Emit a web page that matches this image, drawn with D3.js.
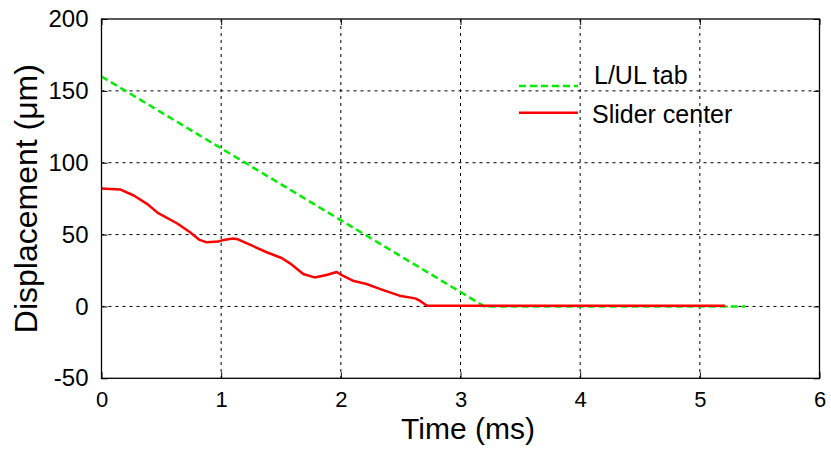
<!DOCTYPE html>
<html>
<head>
<meta charset="utf-8">
<script src="https://cdn.jsdelivr.net/npm/d3@7"></script>
<style>
  html, body { margin: 0; padding: 0; background: #fff; }
  svg { display: block; font-family: "Liberation Sans", Arial, sans-serif; }
</style>
</head>
<body>
<svg id="chart" width="831" height="454"></svg>
<script>
// Tab (L/UL) displacement vs time
const tabTime = [0, 3.2, 5.38];
const tabDisp = [160, 0, 0];

// Slider centre displacement vs time
const sliderTime = [0, 0.155, 0.27, 0.38, 0.47, 0.63, 0.74, 0.82, 0.88, 0.976, 1.02, 1.10, 1.14,
  1.24, 1.38, 1.505, 1.575, 1.686, 1.78, 1.88, 1.965, 2.02, 2.10, 2.215, 2.33, 2.49, 2.62, 2.66, 2.72, 5.21];
const sliderDisp = [82, 81.4, 77.2, 71.4, 65.1, 57.9, 51.6, 46.3, 44.6, 45.1, 46.3, 47.2, 46.7,
  43, 37.7, 33.7, 30, 22.6, 20.2, 21.9, 24, 21.2, 17.9, 15.6, 12.1, 7.5, 5.6, 4, 0.5, 0.5];

const xTicks = [0, 1, 2, 3, 4, 5, 6];
const yTicks = [-50, 0, 50, 100, 150, 200];
const legendLabels = ["L/UL tab", "Slider center"];

const svg = d3.select("#chart");
const plotL = 101.5, plotR = 819.5, plotT = 19, plotB = 378.3;

const x = d3.scaleLinear().domain([0, 6]).range([plotL, plotR]);
const y = d3.scaleLinear().domain([-50, 200]).range([plotB, plotT]);

// dotted grid
const grid = svg.append("g")
  .attr("stroke", "#000").attr("stroke-width", 1).attr("stroke-dasharray", "3,4");
grid.selectAll("line.gx").data(xTicks.slice(1, -1)).enter().append("line")
  .attr("x1", d => x(d)).attr("x2", d => x(d))
  .attr("y1", plotT).attr("y2", plotB);
grid.selectAll("line.gy").data(yTicks.slice(1, -1)).enter().append("line")
  .attr("x1", plotL).attr("x2", plotR)
  .attr("y1", d => y(d)).attr("y2", d => y(d));

// series
const tabLine = d3.line().x((d, i) => x(tabTime[i])).y(d => y(d));
const sliderLine = d3.line().x((d, i) => x(sliderTime[i])).y(d => y(d));

svg.append("path").attr("d", tabLine(tabDisp))
  .attr("fill", "none").attr("stroke", "#00ee00").attr("stroke-width", 2.5)
  .attr("stroke-dasharray", "7,4");
svg.append("path").attr("d", sliderLine(sliderDisp))
  .attr("fill", "none").attr("stroke", "#ff0000").attr("stroke-width", 2.5)
  .attr("stroke-linejoin", "round");

// axes with inward ticks on all four sides
const plain = d => String(d);
const xAxis = d3.axisBottom(x).tickValues(xTicks).tickFormat(plain)
  .tickSizeInner(-6).tickSizeOuter(0).tickPadding(13);
const yAxis = d3.axisLeft(y).tickValues(yTicks).tickFormat(plain)
  .tickSizeInner(-6).tickSizeOuter(0).tickPadding(13);
const xTop = d3.axisTop(x).tickValues(xTicks).tickFormat("").tickSizeInner(-6).tickSizeOuter(0);
const yRight = d3.axisRight(y).tickValues(yTicks).tickFormat("").tickSizeInner(-6).tickSizeOuter(0);

function styleAxis(fs) {
  return g => {
    g.select(".domain").remove();
    g.selectAll("line").attr("stroke", "#000").attr("stroke-width", 1);
    g.selectAll("text").attr("fill", "#000").attr("font-size", fs)
      .attr("font-family", "'Liberation Sans', Arial, sans-serif");
  };
}
svg.append("g").attr("transform", `translate(0,${plotB})`).call(xAxis).call(styleAxis(22))
  .selectAll("text").attr("dy", "0.71em");
svg.append("g").attr("transform", `translate(${plotL},0)`).call(yAxis).call(styleAxis(24));
svg.append("g").attr("transform", `translate(0,${plotT})`).call(xTop).call(styleAxis(22));
svg.append("g").attr("transform", `translate(${plotR},0)`).call(yRight).call(styleAxis(22));

// frame
svg.append("rect").attr("x", plotL).attr("y", plotT)
  .attr("width", plotR - plotL).attr("height", plotB - plotT)
  .attr("fill", "none").attr("stroke", "#000").attr("stroke-width", 1.3);

// axis titles
svg.append("text").attr("x", 468).attr("y", 439)
  .attr("text-anchor", "middle").attr("font-size", 30).attr("fill", "#000")
  .text("Time (ms)");
svg.append("text").attr("transform", `translate(37,${(plotT + plotB) / 2}) rotate(-90)`)
  .attr("text-anchor", "middle").attr("font-size", 32).attr("fill", "#000")
  .text("Displacement (\u03bcm)");

// legend
const legend = svg.append("g");
legend.append("line").attr("x1", 519).attr("x2", 578).attr("y1", 86).attr("y2", 86)
  .attr("stroke", "#00ee00").attr("stroke-width", 2.5).attr("stroke-dasharray", "7,4");
legend.append("text").attr("x", 594).attr("y", 84).attr("font-size", 25).attr("fill", "#000")
  .text(legendLabels[0]);
legend.append("line").attr("x1", 519).attr("x2", 578).attr("y1", 112.7).attr("y2", 112.7)
  .attr("stroke", "#ff0000").attr("stroke-width", 2.5);
legend.append("text").attr("x", 592).attr("y", 123).attr("font-size", 25).attr("fill", "#000")
  .text(legendLabels[1]);
</script>
</body>
</html>
